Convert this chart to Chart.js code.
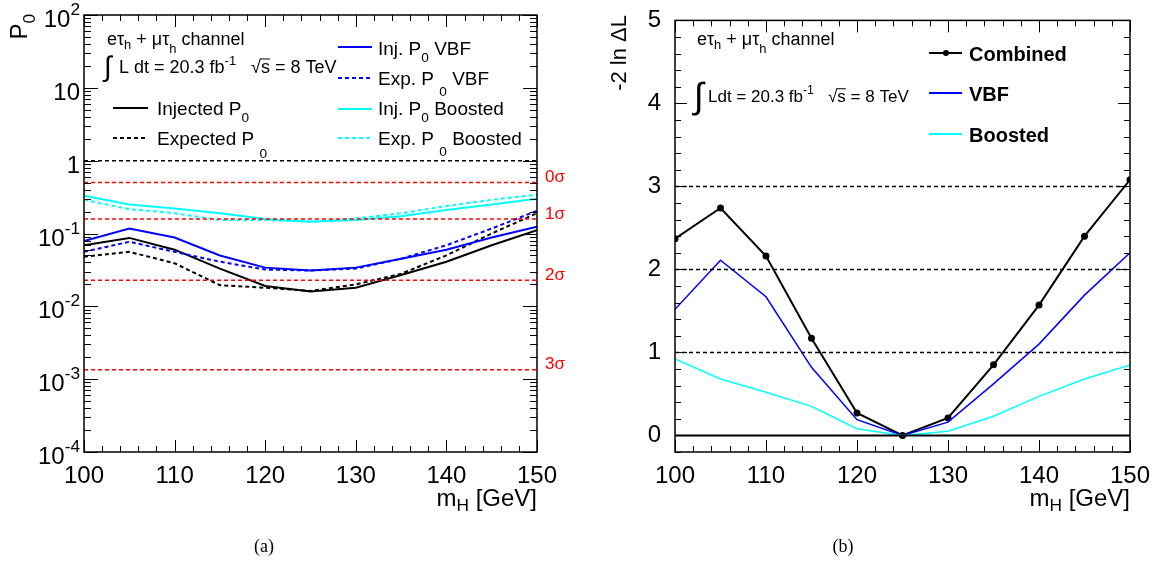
<!DOCTYPE html>
<html>
<head>
<meta charset="utf-8">
<script src="https://cdn.jsdelivr.net/npm/chart.js@4.4.0/dist/chart.umd.min.js"></script>
<style>
  body { margin: 0; background: #fff; }
  #wrap { position: relative; width: 1158px; height: 580px; }
  canvas { position: absolute; top: 0; }
  #left { left: 0; }
  #right { left: 579px; }
</style>
</head>
<body>
<div id="wrap">
  <canvas id="left" width="579" height="580"></canvas>
  <canvas id="right" width="579" height="580"></canvas>
</div>
<script>
'use strict'

const FONT = "'Liberation Sans', Arial, Helvetica, sans-serif";
Chart.defaults.font.family = FONT;
Chart.defaults.color = '#000';

// mass points
const masses = [100, 105, 110, 115, 120, 125, 130, 135, 140, 145, 150];

// (a) p0 values
const injP0    = [0.069, 0.087, 0.060, 0.033, 0.019, 0.016, 0.018, 0.027, 0.041, 0.069, 0.111];
const expP0    = [0.048, 0.056, 0.039, 0.0195, 0.018, 0.0163, 0.020, 0.028, 0.050, 0.100, 0.19];
const injVBF   = [0.079, 0.117, 0.088, 0.050, 0.034, 0.031, 0.034, 0.045, 0.060, 0.088, 0.124];
const expVBF   = [0.056, 0.077, 0.056, 0.041, 0.032, 0.031, 0.033, 0.045, 0.069, 0.117, 0.205];
const injBoost = [0.33, 0.25, 0.22, 0.19, 0.158, 0.145, 0.153, 0.173, 0.21, 0.25, 0.30];
const expBoost = [0.29, 0.216, 0.19, 0.153, 0.153, 0.145, 0.161, 0.19, 0.238, 0.29, 0.34];

// significance reference lines
const sigmaP = [0.5, 0.1587, 0.02275, 0.00135];
const sigmaLabels = ['0σ', '1σ', '2σ', '3σ'];

// (b) -2 ln dL values
const nllComb  = [2.37, 2.74, 2.16, 1.17, 0.27, 0.0, 0.21, 0.85, 1.57, 2.40, 3.08];
const nllVBF   = [1.52, 2.11, 1.67, 0.82, 0.19, 0.0, 0.16, 0.62, 1.10, 1.69, 2.20];
const nllBoost = [0.92, 0.68, 0.52, 0.35, 0.08, 0.0, 0.05, 0.23, 0.47, 0.68, 0.85];
const nllLevels = [1, 2, 3];

// ticks
const xTicks = [100, 110, 120, 130, 140, 150];
const logDecades = [-4, -3, -2, -1, 0, 1, 2];
const nllTicks = [0, 1, 2, 3, 4, 5];

const BLUE = '#0000ff', CYAN = '#00ffff', RED = '#ff0000';

function pts(ys) {
  return masses.map((m, i) => ({x: m, y: ys[i]}));
}
function hline(v) {
  return [{x: masses[0], y: v}, {x: masses[masses.length - 1], y: v}];
}

// text with sub/superscripts, parts are strings or [text, scale, dy, overline]
function drawRich(ctx, parts, x, y, size, opt = {}) {
  const weight = opt.bold ? 'bold ' : '';
  const items = parts.map(p => typeof p === 'string' ? [p, 1, 0, false] : p);
  let total = 0;
  items.forEach(([t, s]) => {
    ctx.font = weight + (size * s) + 'px ' + FONT;
    total += ctx.measureText(t).width;
  });
  let cx = x;
  if (opt.align === 'right') cx = x - total;
  if (opt.align === 'center') cx = x - total / 2;
  ctx.fillStyle = opt.color || '#000';
  ctx.strokeStyle = opt.color || '#000';
  ctx.textAlign = 'left';
  ctx.textBaseline = 'alphabetic';
  items.forEach(([t, s, dy, over]) => {
    ctx.font = weight + (size * s) + 'px ' + FONT;
    const w = ctx.measureText(t).width;
    ctx.fillText(t, cx, y + (dy || 0) * size);
    if (over) {
      ctx.lineWidth = 1;
      ctx.beginPath();
      ctx.moveTo(cx - 1, y - size * 0.78);
      ctx.lineTo(cx + w, y - size * 0.78);
      ctx.stroke();
    }
    cx += w;
  });
}

function seg(ctx, x1, y1, x2, y2) {
  ctx.beginPath();
  ctx.moveTo(x1, y1);
  ctx.lineTo(x2, y2);
  ctx.stroke();
}

// ROOT style frame with ticks inside on all four sides
function drawFrame(chart, yMajor, yMinor, yLen) {
  const {ctx, chartArea: a, scales: {x, y}} = chart;
  ctx.save();
  ctx.strokeStyle = '#000';
  ctx.lineWidth = 1;
  for (let v = 100; v <= 150; v += 2) {
    const p = Math.round(x.getPixelForValue(v)) + 0.5;
    const len = xTicks.includes(v) ? 12 : 6;
    seg(ctx, p, a.bottom, p, a.bottom - len);
    seg(ctx, p, a.top, p, a.top + len);
  }
  yMinor.forEach(v => {
    const p = Math.round(y.getPixelForValue(v)) + 0.5;
    seg(ctx, a.left, p, a.left + yLen / 2, p);
    seg(ctx, a.right, p, a.right - yLen / 2, p);
  });
  yMajor.forEach(v => {
    const p = Math.round(y.getPixelForValue(v)) + 0.5;
    seg(ctx, a.left, p, a.left + yLen, p);
    seg(ctx, a.right, p, a.right - yLen, p);
  });
  ctx.lineWidth = 1.5;
  ctx.strokeRect(a.left, a.top, a.right - a.left, a.bottom - a.top);
  ctx.restore();
}

function legendLine(ctx, x1, x2, y, color, dash, width) {
  ctx.save();
  ctx.strokeStyle = color;
  ctx.lineWidth = width;
  ctx.setLineDash(dash);
  seg(ctx, x1, y, x2, y);
  ctx.restore();
}

const leftDecor = {
  id: 'leftDecor',
  afterDraw(chart) {
    const {ctx, chartArea: a, scales: {y}} = chart;
    const minor = [];
    for (let d = -4; d < 2; d++) {
      for (let k = 2; k <= 9; k++) minor.push(k * Math.pow(10, d));
    }
    drawFrame(chart, logDecades.map(e => Math.pow(10, e)), minor, 14);

    // log tick labels
    logDecades.forEach(e => {
      const p = y.getPixelForValue(Math.pow(10, e));
      const parts = e === 0 ? ['1'] : e === 1 ? ['10'] : ['10', [String(e), 0.72, -0.5]];
      drawRich(ctx, parts, a.left - 4, p + 12, 24, {align: 'right'});
    });

    // sigma labels
    sigmaP.forEach((v, i) => {
      ctx.font = '17px ' + FONT;
      ctx.fillStyle = RED;
      ctx.textAlign = 'left';
      ctx.textBaseline = 'middle';
      ctx.fillText(sigmaLabels[i], a.right + 8, y.getPixelForValue(v) - 5);
    });

    // axis titles
    ctx.save();
    ctx.translate(27, 14);
    ctx.rotate(-Math.PI / 2);
    drawRich(ctx, ['P', ['0', 0.72, 0.35]], 0, 0, 24, {align: 'right'});
    ctx.restore();
    drawRich(ctx, ['m', ['H', 0.72, 0.22], ' [GeV]'], a.right, 506, 24, {align: 'right'});

    // channel text
    drawRich(ctx, ['eτ', ['h', 0.72, 0.22], ' + μτ', ['h', 0.72, 0.45], ' channel'], 107, 45, 18);
    ctx.font = '28px ' + FONT;
    ctx.fillStyle = '#000';
    ctx.fillText('∫', 104, 76);
    drawRich(ctx, [' L dt = 20.3 fb', ['-1', 0.72, -0.45], '   √', ['s', 1, 0, true], ' = 8 TeV'], 114, 73, 18);

    // legend
    legendLine(ctx, 113, 148, 108, '#000', [], 2);
    drawRich(ctx, ['Injected P', ['0', 0.72, 0.37]], 157, 115, 19);
    legendLine(ctx, 113, 148, 138, '#000', [4, 3], 2);
    drawRich(ctx, ['Expected P ', ['0', 0.72, 0.7]], 157, 145, 19);

    legendLine(ctx, 338, 372, 47, BLUE, [], 2);
    drawRich(ctx, ['Inj. P', ['0', 0.72, 0.37], ' VBF'], 378, 55, 19);
    legendLine(ctx, 338, 372, 78, BLUE, [4, 3], 2);
    drawRich(ctx, ['Exp. P ', ['0', 0.72, 0.6], ' VBF'], 378, 85, 19);
    legendLine(ctx, 338, 372, 109, CYAN, [], 2);
    drawRich(ctx, ['Inj. P', ['0', 0.72, 0.37], ' Boosted'], 378, 115, 19);
    legendLine(ctx, 338, 372, 138, CYAN, [4, 3], 2);
    drawRich(ctx, ['Exp. P ', ['0', 0.72, 0.6], ' Boosted'], 378, 145, 19);

    ctx.font = "18px 'Liberation Serif', 'Times New Roman', serif";
    ctx.textAlign = 'center';
    ctx.fillStyle = '#000';
    ctx.fillText('(a)', 264, 552);
  }
};

const rightDecor = {
  id: 'rightDecor',
  afterDraw(chart) {
    const {ctx} = chart;
    const minor = [];
    for (let i = -1; i <= 25; i++) minor.push(i * 0.2);
    drawFrame(chart, nllTicks, minor, 12);

    ctx.save();
    ctx.translate(47, 15);
    ctx.rotate(-Math.PI / 2);
    drawRich(ctx, ['-2 ln ΔL'], 0, 0, 22, {align: 'right'});
    ctx.restore();
    drawRich(ctx, ['m', ['H', 0.72, 0.22], ' [GeV]'], chart.chartArea.right, 506, 24, {align: 'right'});

    drawRich(ctx, ['eτ', ['h', 0.72, 0.22], ' + μτ', ['h', 0.72, 0.45], ' channel'], 118, 45, 18);
    ctx.font = '36px ' + FONT;
    ctx.fillStyle = '#000';
    ctx.fillText('∫', 115, 108);
    drawRich(ctx, ['Ldt = 20.3 fb', ['-1', 0.72, -0.45], '   √', ['s', 1, 0, true], ' = 8 TeV'], 129, 102, 17);

    legendLine(ctx, 350, 383, 53, '#000', [], 2);
    ctx.beginPath();
    ctx.arc(367, 53, 3, 0, Math.PI * 2);
    ctx.fill();
    drawRich(ctx, ['Combined'], 390, 61, 20, {bold: true});
    legendLine(ctx, 350, 383, 93, BLUE, [], 2);
    drawRich(ctx, ['VBF'], 390, 101, 20, {bold: true});
    legendLine(ctx, 350, 383, 134, CYAN, [], 2);
    drawRich(ctx, ['Boosted'], 390, 142, 20, {bold: true});

    ctx.font = "18px 'Liberation Serif', 'Times New Roman', serif";
    ctx.textAlign = 'center';
    ctx.fillStyle = '#000';
    ctx.fillText('(b)', 264, 552);
  }
};

function xScale() {
  return {
    type: 'linear', min: 100, max: 150,
    grid: {display: false}, border: {display: false},
    afterBuildTicks: s => { s.ticks = xTicks.map(v => ({value: v})); },
    afterFit: s => { s.height = 128; },
    ticks: {font: {size: 24}, padding: 2, maxRotation: 0, autoSkip: false, callback: v => String(v)}
  };
}

const baseOptions = {
  responsive: false,
  animation: false,
  devicePixelRatio: 1,
  elements: {point: {radius: 0}, line: {tension: 0, fill: false}},
  plugins: {legend: {display: false}, tooltip: {enabled: false}}
};

const leftChart = new Chart(document.getElementById('left'), {
  type: 'line',
  data: {
    datasets: [
      {data: hline(1), borderColor: '#000', borderWidth: 1.5, borderDash: [4, 3]},
      ...sigmaP.map(v => ({data: hline(v), borderColor: RED, borderWidth: 1.5, borderDash: [4, 3]})),
      {label: 'Exp. P0 Boosted', data: pts(expBoost), borderColor: CYAN, borderWidth: 2, borderDash: [4, 3]},
      {label: 'Inj. P0 Boosted', data: pts(injBoost), borderColor: CYAN, borderWidth: 2},
      {label: 'Exp. P0 VBF', data: pts(expVBF), borderColor: BLUE, borderWidth: 2, borderDash: [4, 3]},
      {label: 'Inj. P0 VBF', data: pts(injVBF), borderColor: BLUE, borderWidth: 2},
      {label: 'Expected P0', data: pts(expP0), borderColor: '#000', borderWidth: 2, borderDash: [4, 3]},
      {label: 'Injected P0', data: pts(injP0), borderColor: '#000', borderWidth: 2}
    ]
  },
  options: {
    ...baseOptions,
    layout: {padding: {top: 15, right: 42, left: 0, bottom: 0}},
    scales: {
      x: xScale(),
      y: {
        type: 'logarithmic', min: 1e-4, max: 1e2,
        grid: {display: false}, border: {display: false},
        afterBuildTicks: s => { s.ticks = logDecades.map(e => ({value: Math.pow(10, e)})); },
        afterFit: s => { s.width = 84; },
        ticks: {display: false}
      }
    }
  },
  plugins: [leftDecor]
});

const rightChart = new Chart(document.getElementById('right'), {
  type: 'line',
  data: {
    datasets: [
      {data: hline(0), borderColor: '#000', borderWidth: 2},
      ...nllLevels.map(v => ({data: hline(v), borderColor: '#000', borderWidth: 1.5, borderDash: [4, 3]})),
      {label: 'Boosted', data: pts(nllBoost), borderColor: CYAN, borderWidth: 1.5},
      {label: 'VBF', data: pts(nllVBF), borderColor: BLUE, borderWidth: 1.5},
      {label: 'Combined', data: pts(nllComb), borderColor: '#000', borderWidth: 2,
       pointRadius: 3.5, pointBackgroundColor: '#000', pointBorderWidth: 0}
    ]
  },
  options: {
    ...baseOptions,
    layout: {padding: {top: 15, right: 28, left: 0, bottom: 0}},
    scales: {
      x: xScale(),
      y: {
        type: 'linear', min: -0.2, max: 5,
        grid: {display: false}, border: {display: false},
        afterBuildTicks: s => { s.ticks = nllTicks.map(v => ({value: v})); },
        afterFit: s => { s.width = 96; },
        ticks: {font: {size: 24}, padding: 6, callback: v => String(v)}
      }
    }
  },
  plugins: [rightDecor]
});
</script>
</body>
</html>
